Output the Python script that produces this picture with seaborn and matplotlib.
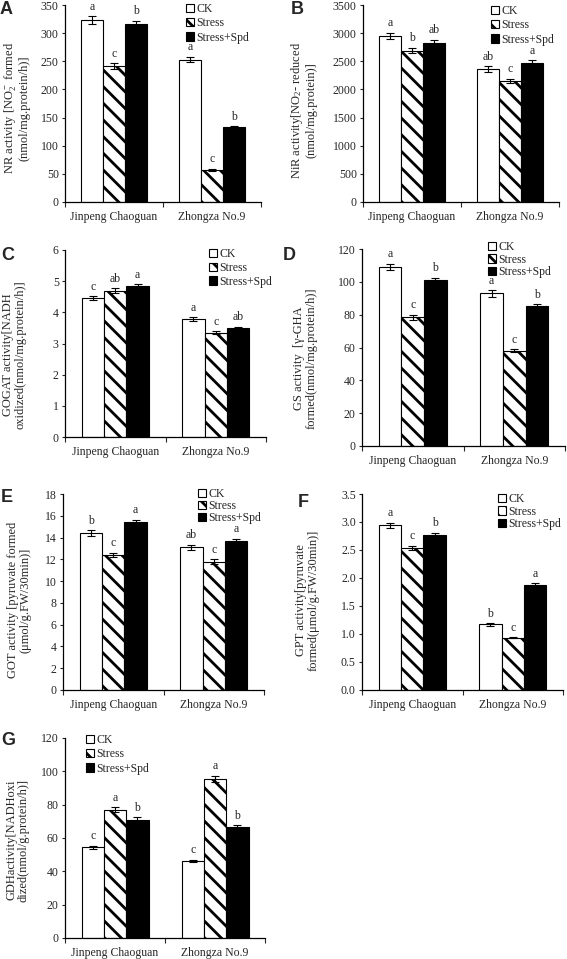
import numpy as np
import pandas as pd
import matplotlib
matplotlib.use("Agg")
import matplotlib.pyplot as plt
import seaborn as sns
from matplotlib.patches import Patch
from matplotlib.ticker import MultipleLocator, FormatStrFormatter

# ---------------- data ----------------
cultivars = ["Jinpeng Chaoguan", "Zhongza No.9"]
treatments = ["CK", "Stress", "Stress+Spd"]

# values per treatment: [Jinpeng Chaoguan, Zhongza No.9]
nr_vals = [[323, 253], [242, 57], [317, 133]]
nr_err = [[7, 5], [5, 2], [5, 2]]
nr_sig = [["a", "a"], ["c", "c"], ["b", "b"]]

nir_vals = [[2950, 2360], [2690, 2150], [2830, 2470]]
nir_err = [[60, 50], [50, 40], [50, 45]]
nir_sig = [["a", "ab"], ["b", "c"], ["ab", "a"]]

gogat_vals = [[4.45, 3.78], [4.70, 3.35], [4.83, 3.50]]
gogat_err = [[0.07, 0.06], [0.07, 0.05], [0.07, 0.04]]
gogat_sig = [["c", "a"], ["ab", "c"], ["a", "ab"]]

gs_vals = [[109, 93], [78.5, 58], [101, 85]]
gs_err = [[2, 2], [1.5, 1], [1.5, 1.5]]
gs_sig = [["a", "a"], ["c", "c"], ["b", "b"]]

got_vals = [[14.4, 13.1], [12.4, 11.8], [15.4, 13.7]]
got_err = [[0.25, 0.25], [0.2, 0.2], [0.25, 0.2]]
got_sig = [["b", "ab"], ["c", "c"], ["a", "a"]]

gpt_vals = [[2.94, 1.17], [2.54, 0.93], [2.77, 1.88]]
gpt_err = [[0.05, 0.02], [0.04, 0.01], [0.04, 0.03]]
gpt_sig = [["a", "b"], ["c", "c"], ["b", "a"]]

gdh_vals = [[54.5, 46.3], [77, 95.5], [71, 66.5]]
gdh_err = [[1, 0.8], [1.5, 1.8], [1.5, 1.2]]
gdh_sig = [["c", "c"], ["a", "a"], ["b", "b"]]

ylabels = {
    "A": "NR activity [NO$_2^-$ formed\n(nmol/mg.protein/h)]",
    "B": "NiR activity[NO$_2$- reduced\n(nmol/mg.protein)]",
    "C": "GOGAT activity[NADH\noxidized(nmol/mg.protein/h)]",
    "D": "GS activity  [\u03b3-GHA\nformed(nmol/mg.protein/h)]",
    "E": "GOT activity [pyruvate formed\n(\u03bcmol/g.FW/30min)]",
    "F": "GPT activity[pyruvate\nformed(\u03bcmol/g.FW/30min)]",
    "G": "GDHactivity[NADHoxi\ndized(nmol/g.protein/h)]",
}

# ---------------- style / layout ----------------
sns.set_style("ticks")
plt.rcParams["font.family"] = ["Liberation Serif", "DejaVu Serif"]
plt.rcParams["mathtext.fontset"] = "custom"
plt.rcParams["mathtext.rm"] = "Liberation Serif"
plt.rcParams["mathtext.it"] = "Liberation Serif:italic"
plt.rcParams["hatch.linewidth"] = 2.0
plt.rcParams["hatch.color"] = "black"

W, H = 567, 959
FS = 8.5
fig = plt.figure(figsize=(W / 100, H / 100), dpi=100)

# letter, vals, err, sig, ymax, step, fmt, (left, right, top, bottom), label right x, label center y, legend anchor, labelspacing, letter pos
panels = [
    ("A", nr_vals, nr_err, nr_sig, 350, 50, "%d", (65, 261, 5, 202), 31, 108, (186, 3), 0.2, (0, 1)),
    ("B", nir_vals, nir_err, nir_sig, 3500, 500, "%d", (363, 559, 5, 202), 318, 110, (491, 5), 0.2, (291, 1)),
    ("C", gogat_vals, gogat_err, gogat_sig, 6, 1, "%d", (65, 266, 250, 437), 27, 355, (209, 248), 0.15, (1, 247)),
    ("D", gs_vals, gs_err, gs_sig, 120, 20, "%d", (362, 565, 249, 446), 318, 358, (488, 241), 0.05, (283, 247)),
    ("E", got_vals, got_err, got_sig, 18, 2, "%d", (63, 264, 494, 690), 32, 600, (198, 488), 0.0, (1, 489)),
    ("F", gpt_vals, gpt_err, gpt_sig, 3.5, 0.5, "%.1f", (362, 563, 494, 690), 320, 600, (498, 493), 0.05, (298, 494)),
    ("G", gdh_vals, gdh_err, gdh_sig, 120, 20, "%d", (65, 265, 738, 938), 30, 840, (86, 734), 0.2, (1, 732)),
]

face = {"CK": "white", "Stress": "white", "Stress+Spd": "black"}
hatches = {"CK": None, "Stress": "\\\\", "Stress+Spd": None}

for (letter, vals, err, sig, ymax, step, fmt, box, lab_x, lab_y, leg_xy, lspace, let_xy) in panels:
    l, r, t, b = box
    ax = fig.add_axes([l / W, 1 - b / H, (r - l) / W, (b - t) / H])
    rows = []
    for ti, tr in enumerate(treatments):
        for ci, cv in enumerate(cultivars):
            rows.append({"cultivar": cv, "treatment": tr, "value": vals[ti][ci]})
    df = pd.DataFrame(rows)
    sns.barplot(data=df, x="cultivar", y="value", hue="treatment",
                order=cultivars, hue_order=treatments,
                palette=[face[tr] for tr in treatments],
                edgecolor="black", linewidth=0.8, width=0.67, gap=0,
                errorbar=None, legend=False, ax=ax, saturation=1)
    for ti, tr in enumerate(treatments):
        cont = ax.containers[ti]
        xs = []
        for bar in cont:
            if hatches[tr]:
                bar.set_hatch(hatches[tr])
            bar.set_edgecolor("black")
            xs.append(bar.get_x() + bar.get_width() / 2)
        ax.errorbar(xs, vals[ti], yerr=err[ti], fmt="none", ecolor="black",
                    elinewidth=0.8, capsize=3, capthick=0.8, zorder=5)
        for x, v, e, s in zip(xs, vals[ti], err[ti], sig[ti]):
            ax.annotate(s, (x, v + e), xytext=(0, 2.5), textcoords="offset points",
                        ha="center", va="bottom", fontsize=FS)

    ax.set_xlim(-0.5, 1.5)
    ax.set_ylim(0, ymax)
    ax.yaxis.set_major_locator(MultipleLocator(step))
    ax.yaxis.set_major_formatter(FormatStrFormatter(fmt))
    ax.set_xticks([0, 1])
    ax.set_xticklabels(cultivars)
    ax.set_xticks([-0.5, 0.5, 1.5], minor=True)
    ax.tick_params(axis="x", which="major", length=0, pad=6.5, labelsize=FS)
    ax.tick_params(axis="x", which="minor", length=3.5, width=0.8, direction="out")
    ax.tick_params(axis="y", length=2.5, width=0.8, direction="out", pad=2, labelsize=FS)
    for sp in ["top", "right"]:
        ax.spines[sp].set_visible(False)
    for sp in ["left", "bottom"]:
        ax.spines[sp].set_linewidth(0.9)
        ax.spines[sp].set_color("black")
    ax.set_xlabel("")
    ax.set_ylabel(ylabels[letter], fontsize=FS + 0.5, linespacing=1.1)
    ax.yaxis.set_label_coords((lab_x - l) / (r - l), (b - lab_y) / (b - t))

    handles = [Patch(facecolor=face[tr], edgecolor="black", hatch=hatches[tr], linewidth=0.8)
               for tr in treatments]
    ax.legend(handles, treatments, loc="upper left",
              bbox_to_anchor=(leg_xy[0] / W, 1 - leg_xy[1] / H),
              bbox_transform=fig.transFigure, frameon=False, fontsize=FS,
              handlelength=0.7, handleheight=0.7, handletextpad=0.2,
              labelspacing=lspace, borderpad=0, borderaxespad=0)

    fig.text(let_xy[0] / W, 1 - let_xy[1] / H, letter, ha="left", va="top",
             fontsize=13, fontweight="bold", family=["Liberation Sans", "DejaVu Sans"])

fig.savefig("out.png", dpi=100)
